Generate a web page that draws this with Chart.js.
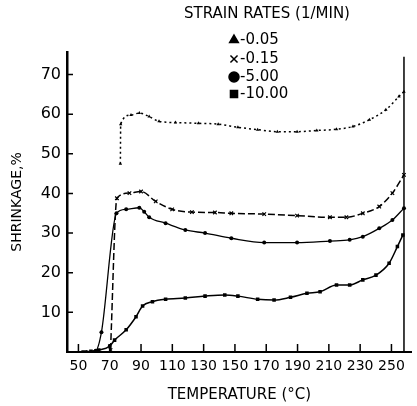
<!DOCTYPE html>
<html>
<head>
<meta charset="utf-8">
<script src="https://cdn.jsdelivr.net/npm/chart.js@4"></script>
<style>
  html, body { margin: 0; padding: 0; background: #fff; }
</style>
</head>
<body>
<canvas id="myChart" width="417" height="406"></canvas>
<script>
// strain rate 0.05 1/min
const t005 = [76.8, 77.0, 83.6, 88.9, 95.2, 101.5, 112, 126.7, 139.3, 151.9, 164.5, 177.1, 189.7, 202.3, 214.9, 225.4, 235.9, 246.4, 254.8, 258];
const s005 = [47.5, 57.5, 59.8, 60.3, 59.4, 58.2, 57.9, 57.7, 57.5, 56.7, 56.1, 55.6, 55.6, 55.9, 56.2, 56.9, 58.6, 61.1, 64.5, 65.7];
// 0.15
const t015 = [70.5, 74.6, 82.6, 90, 99.4, 109.9, 122.5, 137.2, 147.7, 168.7, 189.7, 210.7, 221.2, 231.7, 242.2, 250.6, 258];
const s015 = [0.5, 38.8, 40.1, 40.5, 38.0, 36.0, 35.3, 35.2, 35.0, 34.8, 34.4, 34.0, 34.0, 35.0, 36.7, 40.1, 44.7];
// 5.00
const t500 = [55, 61, 64.7, 74.3, 80.5, 88.9, 92, 95.2, 105.7, 118.3, 130.9, 147.7, 168.7, 189.7, 210.7, 223.3, 231.7, 242.2, 250.6, 258];
const s500 = [0, 0.3, 5, 35.0, 36.0, 36.4, 35.4, 34.0, 32.5, 30.8, 30.0, 28.7, 27.6, 27.6, 28.0, 28.3, 29.1, 31.2, 33.3, 36.3];
// 10.00
const t1000 = [53, 58, 63, 70, 73.1, 80.5, 86.8, 91, 97.3, 105.7, 118.3, 130.9, 143.5, 151.9, 164.5, 175, 185.5, 196, 204.4, 214.9, 223.3, 231.7, 240.1, 248.5, 253.8, 257.3];
const s1000 = [0, 0.2, 0.5, 1.5, 3.0, 5.6, 8.9, 11.6, 12.7, 13.3, 13.6, 14.1, 14.4, 14.1, 13.3, 13.1, 13.8, 14.8, 15.2, 16.9, 16.9, 18.2, 19.4, 22.4, 26.6, 29.5];
// vertical line at the end of the runs
const tEnd = [258, 258];
const sEnd = [0, 74.5];

const xTicks = [50, 70, 90, 110, 130, 150, 170, 190, 210, 230, 250];
const yTicks = [10, 20, 30, 40, 50, 60, 70];
const rateLabels = ['-0.05', '-0.15', '-5.00', '-10.00'];
const rateMarks = ['triangle', 'crossRot', 'circle', 'rect'];

function pts(t, s) {
  return t.map((v, i) => ({ x: v, y: s[i] }));
}

const FONT = 'DejaVu Sans';

const extras = {
  id: 'extras',
  afterDraw(chart) {
    const ctx = chart.ctx;
    const xs = chart.scales.x, ys = chart.scales.y;
    ctx.save();
    ctx.strokeStyle = '#000';
    ctx.lineWidth = 1.5;
    ctx.beginPath();
    xTicks.forEach(v => {
      const px = xs.getPixelForValue(v);
      ctx.moveTo(px, ys.bottom);
      ctx.lineTo(px, ys.bottom - 8);
    });
    yTicks.forEach(v => {
      const py = ys.getPixelForValue(v);
      ctx.moveTo(xs.left, py);
      ctx.lineTo(xs.left + 6, py);
    });
    ctx.stroke();

    // legend block
    ctx.fillStyle = '#000';
    ctx.font = '15px "' + FONT + '"';
    ctx.textBaseline = 'middle';
    ctx.textAlign = 'center';
    ctx.fillText('STRAIN RATES (1/MIN)', 267, 14);
    ctx.textAlign = 'left';
    const rows = [40, 59, 77, 94];
    rateLabels.forEach((lab, i) => {
      Chart.helpers.drawPoint(ctx, { pointStyle: rateMarks[i], radius: 5, rotation: 0, borderWidth: 2 }, 234, rows[i]);
      ctx.fillStyle = '#000';
      ctx.fillText(lab, 240, rows[i]);
    });
    ctx.restore();
  }
};

const ctx = document.getElementById('myChart');

new Chart(ctx, {
  type: 'line',
  data: {
    datasets: [
      {
        label: '0.05',
        data: pts(t005, s005),
        borderColor: '#000', backgroundColor: '#000',
        borderWidth: 1.5, borderDash: [2, 3],
        pointStyle: 'triangle', pointRadius: 2, pointBorderWidth: 0
      },
      {
        label: '0.15',
        data: pts(t015, s015),
        borderColor: '#000', backgroundColor: '#000',
        borderWidth: 1.5, borderDash: [7, 3],
        pointStyle: 'crossRot', pointRadius: 2.5, pointBorderWidth: 1.2
      },
      {
        label: '5.00',
        data: pts(t500, s500),
        borderColor: '#000', backgroundColor: '#000',
        borderWidth: 1.3,
        pointStyle: 'circle', pointRadius: 2, pointBorderWidth: 0
      },
      {
        label: '10.00',
        data: pts(t1000, s1000),
        borderColor: '#000', backgroundColor: '#000',
        borderWidth: 1.5,
        pointStyle: 'rect', pointRadius: 2.5, pointBorderWidth: 0
      },
      {
        label: 'end',
        data: pts(tEnd, sEnd),
        borderColor: '#000',
        borderWidth: 1.5,
        pointRadius: 0,
        cubicInterpolationMode: 'default',
        tension: 0
      }
    ]
  },
  options: {
    responsive: false,
    animation: false,
    devicePixelRatio: 1,
    layout: { padding: { top: 52, right: 0, left: 0, bottom: 0 } },
    elements: { line: { cubicInterpolationMode: 'monotone' } },
    plugins: { legend: { display: false }, tooltip: { enabled: false } },
    scales: {
      x: {
        type: 'linear',
        min: 42.7,
        max: 263,
        afterBuildTicks: (s) => { s.ticks = xTicks.map(v => ({ value: v })); },
        afterFit: (s) => { s.height = 54; },
        grid: { drawOnChartArea: false, drawTicks: false },
        border: { display: true, color: '#000', width: 2 },
        ticks: { color: '#000', padding: 6, maxRotation: 0, autoSkip: false, font: { family: FONT, size: 14 } },
        title: { display: true, text: 'TEMPERATURE (°C)', color: '#000', font: { family: FONT, size: 15 }, padding: { top: 0, bottom: 2 } }
      },
      y: {
        min: 0,
        max: 75.7,
        afterBuildTicks: (s) => { s.ticks = yTicks.map(v => ({ value: v })); },
        afterFit: (s) => { s.width = 67; },
        grid: { drawOnChartArea: false, drawTicks: false },
        border: { display: true, color: '#000', width: 2.5 },
        ticks: { color: '#000', padding: 6, font: { family: FONT, size: 16 } },
        title: { display: true, text: 'SHRINKAGE,%', color: '#000', font: { family: FONT, size: 14 }, padding: { top: 9, bottom: 0 } }
      }
    }
  },
  plugins: [extras]
});
</script>
</body>
</html>
